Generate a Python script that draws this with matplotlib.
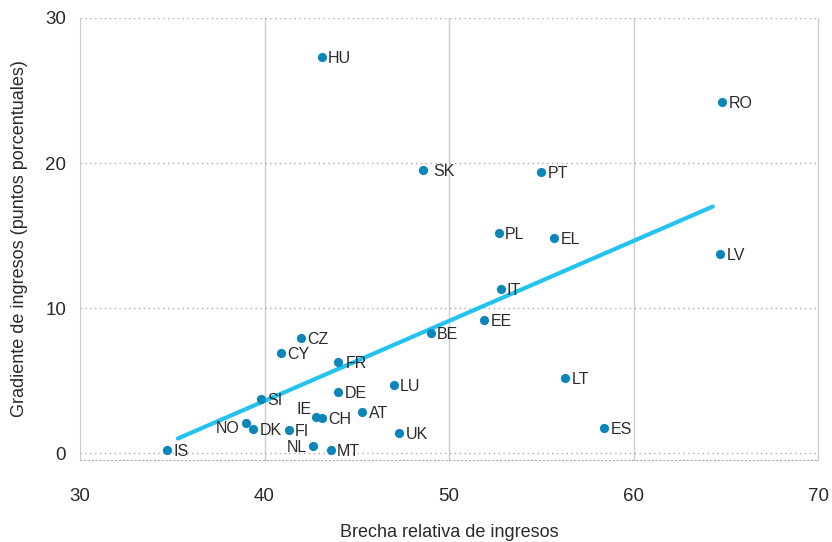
import matplotlib
matplotlib.use('Agg')
import matplotlib.pyplot as plt

plt.rcParams['font.family'] = ['Liberation Sans', 'DejaVu Sans']

# country codes, income gap (x) and income gradient (y)
countries = ['HU', 'RO', 'SK', 'PT', 'PL', 'EL', 'LV', 'IT', 'EE', 'BE',
             'CZ', 'CY', 'FR', 'LU', 'DE', 'LT', 'SI', 'AT', 'IE', 'CH',
             'NO', 'DK', 'FI', 'ES', 'UK', 'NL', 'MT', 'IS']
brecha = [43.1, 64.8, 48.6, 55.0, 52.7, 55.7, 64.7, 52.8, 51.9, 49.0,
          42.0, 40.9, 44.0, 47.0, 44.0, 56.3, 39.8, 45.3, 42.8, 43.1,
          39.0, 39.4, 41.3, 58.4, 47.3, 42.6, 43.6, 34.7]
gradiente = [27.3, 24.2, 19.5, 19.4, 15.2, 14.8, 13.7, 11.3, 9.2, 8.3,
             7.9, 6.9, 6.3, 4.7, 4.2, 5.2, 3.7, 2.8, 2.5, 2.4,
             2.1, 1.65, 1.6, 1.7, 1.4, 0.5, 0.2, 0.2]

# trend line end points
trend_x = [35.3, 64.3]
trend_y = [1.0, 17.0]

x_ticks = [30, 40, 50, 60, 70]
y_ticks = [0, 10, 20, 30]

# label placement (offset in points, horizontal alignment)
label_pos = {
    'SK': ((7, -1), 'left'),
    'FR': ((5, -1.5), 'left'),
    'NO': ((-5, -4), 'right'),
    'IE': ((-3, 5), 'right'),
    'NL': ((-4, -1), 'right'),
}

fig = plt.figure(figsize=(8.32, 5.42), dpi=100)
ax = fig.add_axes([0.0962, 0.1513, 0.887, 0.8155])

for xv in x_ticks[1:]:
    ax.axvline(xv, color='#cccccc', lw=1, zorder=0, clip_on=False)
for yv in y_ticks:
    ax.axhline(yv, color='#aaaaaa', lw=1, ls=(0, (1, 2.5)), zorder=0)

ax.plot(trend_x, trend_y, color='#23c3ef', lw=3, solid_capstyle='round', zorder=2)
ax.scatter(brecha, gradiente, s=44, color='#0a87b8', zorder=3, linewidths=0)

for c, xv, yv in zip(countries, brecha, gradiente):
    off, ha = label_pos.get(c, ((4.5, -1), 'left'))
    ax.annotate(c, (xv, yv), xytext=off, textcoords='offset points',
                ha=ha, va='center', fontsize=11.5, color='#2a2a2a', zorder=4)

ax.set_xlim(30, 70)
ax.set_ylim(-0.48, 30)
ax.set_xticks(x_ticks)
ax.set_yticks(y_ticks)
ax.tick_params(length=0, labelsize=13.5, colors='#2a2a2a')
ax.tick_params(axis='x', pad=20)
ax.tick_params(axis='y', pad=10)

for s in ['top', 'right']:
    ax.spines[s].set_visible(False)
ax.spines['left'].set_color('#cccccc')
ax.spines['bottom'].set_color('#aaaaaa')
ax.spines['bottom'].set_linestyle((0, (1, 2.5)))

ax.set_xlabel('Brecha relativa de ingresos', fontsize=13, color='#2a2a2a', labelpad=14)
ax.set_ylabel('Gradiente de ingresos (puntos porcentuales)', fontsize=13, color='#2a2a2a', labelpad=12)

plt.savefig('out.png', dpi=100)
